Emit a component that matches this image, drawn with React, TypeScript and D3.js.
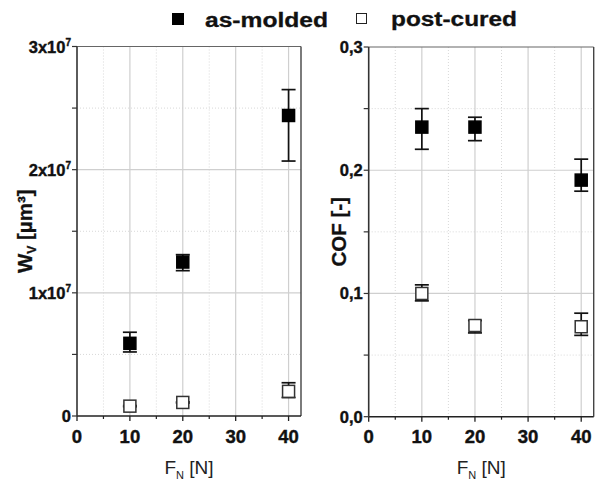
import React from "react";
import * as d3 from "d3";

// Normal load F_N [N]
const loads = [10, 20, 40];

// Wear volume W_V [µm³]
const wvMolded = [5.9e6, 1.25e7, 2.44e7];
const wvMoldedLow = [5.2e6, 1.18e7, 2.07e7];
const wvMoldedHigh = [6.8e6, 1.31e7, 2.65e7];
const wvCured = [0.8e6, 1.1e6, 2.0e6];
const wvCuredLow = [0.75e6, 1.05e6, 1.5e6];
const wvCuredHigh = [0.85e6, 1.15e6, 2.7e6];

// Coefficient of friction
const cofMolded = [0.235, 0.235, 0.192];
const cofMoldedLow = [0.217, 0.224, 0.183];
const cofMoldedHigh = [0.25, 0.243, 0.209];
const cofCured = [0.1, 0.074, 0.073];
const cofCuredLow = [0.094, 0.068, 0.066];
const cofCuredHigh = [0.107, 0.078, 0.084];

const xMajorTicks = [0, 10, 20, 30, 40];
const xMinorTicks = [5, 15, 25, 35];
const wvMajorTicks = [0, 1e7, 2e7, 3e7];
const wvMinorTicks = [0.5e7, 1.5e7, 2.5e7];
const cofMajorTicks = [0, 0.1, 0.2, 0.3];
const cofMinorTicks = [0.05, 0.15, 0.25];
const cofTickLabels = ["0,0", "0,1", "0,2", "0,3"];

const legendLabels = ["as-molded", "post-cured"];

const FONT = "'Liberation Sans', Arial, sans-serif";

type Series = { mean: number[]; low: number[]; high: number[]; filled: boolean };

function Panel(props: {
  x0: number;
  x1: number;
  y0: number;
  y1: number;
  yDomain: [number, number];
  yMajor: number[];
  yMinor: number[];
  yLabel: (v: number, i: number) => React.ReactNode;
  title: React.ReactNode;
  titleX: number;
  series: Series[];
}) {
  const { x0, x1, y0, y1 } = props;
  const x = d3.scaleLinear().domain([0, 42.35]).range([x0, x1]);
  const y = d3.scaleLinear().domain(props.yDomain).range([y1, y0]);
  const sq = 12;
  const cap = 7;
  return (
    <g>
      {/* minor dotted grid */}
      {xMinorTicks.map((t) => (
        <line key={"gx" + t} x1={x(t)} x2={x(t)} y1={y0} y2={y1} stroke="#d8d8d8" strokeWidth={1} strokeDasharray="1,2" />
      ))}
      {props.yMinor.map((t) => (
        <line key={"gy" + t} x1={x0} x2={x1} y1={y(t)} y2={y(t)} stroke="#d8d8d8" strokeWidth={1} strokeDasharray="1,2" />
      ))}
      {/* major grid */}
      {xMajorTicks.slice(1).map((t) => (
        <line key={"Gx" + t} x1={x(t)} x2={x(t)} y1={y0} y2={y1} stroke="#cfcfcf" strokeWidth={1.2} />
      ))}
      {props.yMajor.slice(1, -1).map((t) => (
        <line key={"Gy" + t} x1={x0} x2={x1} y1={y(t)} y2={y(t)} stroke="#cfcfcf" strokeWidth={1.2} />
      ))}
      {/* frame */}
      <line x1={x0} x2={x1} y1={y0} y2={y0} stroke="#666" strokeWidth={1.2} />
      <line x1={x1} x2={x1} y1={y0} y2={y1} stroke="#444" strokeWidth={1.4} />
      <line x1={x0} x2={x1} y1={y1} y2={y1} stroke="#222" strokeWidth={1.6} />
      <line x1={x0} x2={x0} y1={y0} y2={y1} stroke="#333" strokeWidth={1.6} />
      {/* x ticks */}
      {xMajorTicks.map((t) => (
        <line key={"tx" + t} x1={x(t)} x2={x(t)} y1={y1} y2={y1 + 5} stroke="#222" strokeWidth={1.3} />
      ))}
      {xMinorTicks.map((t) => (
        <line key={"mx" + t} x1={x(t)} x2={x(t)} y1={y1} y2={y1 + 3} stroke="#222" strokeWidth={1.2} />
      ))}
      {xMajorTicks.map((t) => (
        <text key={"lx" + t} x={x(t)} y={443} textAnchor="middle" fontFamily={FONT} fontWeight="bold" fontSize={18.5} fill="#111" stroke="#111" strokeWidth={0.4}>
          {t}
        </text>
      ))}
      {/* y ticks */}
      {props.yMajor.concat(props.yMinor).map((t) => (
        <line key={"ty" + t} x1={x0 - 5} x2={x0} y1={y(t)} y2={y(t)} stroke="#333" strokeWidth={1.2} />
      ))}
      {props.yMajor.map((t, i) => (
        <text key={"ly" + t} x={x0 - 6} y={y(t) + 6} textAnchor="end" fontFamily={FONT} fontWeight="bold" fontSize={16.5} fill="#111" stroke="#111" strokeWidth={0.4}>
          {props.yLabel(t, i)}
        </text>
      ))}
      {/* axis titles */}
      <text x={(x0 + x1) / 2} y={474} textAnchor="middle" fontFamily={FONT} fontSize={19} fill="#222">
        F<tspan fontSize={11} dy={5}>N</tspan>
        <tspan dy={-5}> [N]</tspan>
      </text>
      <text
        transform={`translate(${props.titleX},${(y0 + y1) / 2}) rotate(-90)`}
        textAnchor="middle"
        fontFamily={FONT}
        fontWeight="bold"
        fontSize={20.5}
        fill="#111"
        stroke="#111"
        strokeWidth={0.3}
      >
        {props.title}
      </text>
      {/* data */}
      {props.series.map((s, si) => (
        <g key={"s" + si}>
          {loads.map((l, i) => (
            <g key={"e" + i} stroke="#111" strokeWidth={1.7}>
              <line x1={x(l)} x2={x(l)} y1={y(s.low[i])} y2={y(s.high[i])} />
              <line x1={x(l) - cap} x2={x(l) + cap} y1={y(s.low[i])} y2={y(s.low[i])} />
              <line x1={x(l) - cap} x2={x(l) + cap} y1={y(s.high[i])} y2={y(s.high[i])} />
            </g>
          ))}
          {loads.map((l, i) => (
            <rect
              key={"p" + i}
              x={x(l) - sq / 2}
              y={y(s.mean[i]) - sq / 2}
              width={sq}
              height={sq}
              fill={s.filled ? "#000" : "#fff"}
              stroke={s.filled ? "#000" : "#333"}
              strokeWidth={1.5}
            />
          ))}
        </g>
      ))}
    </g>
  );
}

export default function App() {
  const wvLabel = (v: number) =>
    v === 0 ? (
      "0"
    ) : (
      <>
        {`${Math.round(v / 1e7)}x10`}
        <tspan fontSize={10} dy={-7}>
          7
        </tspan>
      </>
    );
  return (
    <svg width={598} height={480} style={{ position: "absolute", left: 0, top: 0, background: "#fff" }}>
      <rect x={0} y={0} width={598} height={480} fill="#fff" />
      {/* legend */}
      <rect x={172} y={13} width={12} height={12} fill="#000" />
      <text x={205} y={27} fontFamily={FONT} fontWeight="bold" fontSize={20} fill="#111" stroke="#111" strokeWidth={0.3} textLength={123} lengthAdjust="spacingAndGlyphs">
        {legendLabels[0]}
      </text>
      <rect x={356.5} y={13.5} width={10} height={10} fill="#fff" stroke="#222" strokeWidth={1} />
      <text x={391} y={26} fontFamily={FONT} fontWeight="bold" fontSize={20} fill="#111" stroke="#111" strokeWidth={0.3} textLength={126} lengthAdjust="spacingAndGlyphs">
        {legendLabels[1]}
      </text>
      <Panel
        x0={77}
        x1={301}
        y0={46.5}
        y1={416}
        yDomain={[0, 3e7]}
        yMajor={wvMajorTicks}
        yMinor={wvMinorTicks}
        yLabel={wvLabel}
        titleX={32}
        title={
          <>
            W<tspan fontSize={12} dy={4}>V</tspan>
            <tspan dy={-4}> [µm³]</tspan>
          </>
        }
        series={[
          { mean: wvMolded, low: wvMoldedLow, high: wvMoldedHigh, filled: true },
          { mean: wvCured, low: wvCuredLow, high: wvCuredHigh, filled: false },
        ]}
      />
      <Panel
        x0={368.7}
        x1={593.7}
        y0={47}
        y1={416.7}
        yDomain={[0, 0.3]}
        yMajor={cofMajorTicks}
        yMinor={cofMinorTicks}
        yLabel={(_v, i) => cofTickLabels[i]}
        titleX={346}
        title="COF [-]"
        series={[
          { mean: cofMolded, low: cofMoldedLow, high: cofMoldedHigh, filled: true },
          { mean: cofCured, low: cofCuredLow, high: cofCuredHigh, filled: false },
        ]}
      />
    </svg>
  );
}
